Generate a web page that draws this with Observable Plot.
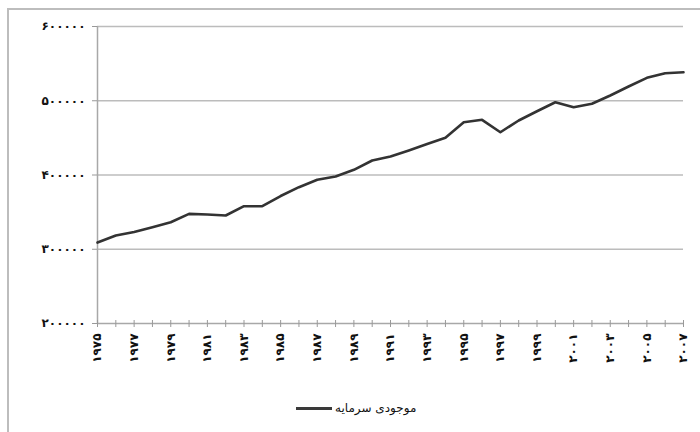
<!DOCTYPE html>
<html>
<head>
<meta charset="utf-8">
<script src="https://cdn.jsdelivr.net/npm/d3@7"></script>
<script src="https://cdn.jsdelivr.net/npm/@observablehq/plot@0.6"></script>
<style>
  html, body { margin: 0; padding: 0; background: #fff; }
  #wrap { position: relative; width: 700px; height: 432px; overflow: hidden; background: #fff; }
  #frame { position: absolute; left: 7px; top: 8px; right: -4px; bottom: -4px;
           border-left: 2px solid #bdbdbd; border-top: 2px solid #bdbdbd; pointer-events: none; }
  #legend { position: absolute; top: 401px; left: 296px; display: flex; align-items: center;
            font-family: "DejaVu Sans", sans-serif; font-size: 12px; letter-spacing: 0.5px;
            color: #111; direction: ltr; }
  #legend .swatch { width: 36px; height: 3px; background: #3a3a3a; margin-right: 3px; }
</style>
</head>
<body>
<div id="wrap">
  <div id="chart"></div>
  <div id="frame"></div>
  <div id="legend"><span class="swatch"></span><span dir="rtl">موجودی سرمایه</span></div>
</div>
<script>
// Capital stock, 1975–2007
const years = d3.range(1975, 2008);
const capitalStock = [
  309000, 318500, 323200, 329700, 336400, 347700, 346800, 345500, 358000, 358000,
  371700, 383600, 393500, 398000, 407000, 419500, 424900, 433000, 441700, 450100,
  471100, 474300, 457600, 473400, 485900, 498000, 491300, 495900, 507100, 519200,
  530900, 537100, 538400
];
const yTicks = [200000, 300000, 400000, 500000, 600000];
const labelYears = d3.range(1975, 2008, 2);
const seriesName = "موجودی سرمایه";

const persianDigits = "۰۱۲۳۴۵۶۷۸۹";
const toPersian = n => String(n).replace(/\d/g, d => persianDigits[+d]);

const data = years.map((year, i) => ({year, value: capitalStock[i]}));

const chart = Plot.plot({
  width: 700,
  height: 432,
  marginLeft: 97,
  marginRight: 17,
  marginTop: 26,
  marginBottom: 109,
  style: {fontFamily: "DejaVu Sans, sans-serif", fontSize: "12px", color: "#111", background: "transparent"},
  x: {type: "linear", domain: [1975, 2007]},
  y: {domain: [200000, 600000]},
  marks: [
    // horizontal gridlines
    Plot.ruleY(yTicks.slice(1), {stroke: "#bcbcbc", strokeWidth: 1.5}),
    // axis lines
    Plot.ruleY([200000], {stroke: "#a8a8a8", strokeWidth: 1.5}),
    Plot.ruleX([1975], {stroke: "#a8a8a8", strokeWidth: 1.5}),
    // y axis ticks and labels
    Plot.axisY({ticks: yTicks, tickSize: 5, tickPadding: 7, tickFormat: toPersian,
                stroke: "#999", label: null, fontSize: 12, fontWeight: "bold"}),
    // yearly tick marks crossing the x axis
    Plot.axisX({ticks: years, tickSize: 7, dy: -3, tickFormat: () => "", stroke: "#999", label: null}),
    // rotated year labels every two years
    Plot.axisX({ticks: labelYears, tickSize: 0, tickPadding: 10, tickRotate: -90,
                tickFormat: toPersian, label: null, fontSize: 12, fontWeight: "bold"}),
    // capital stock line
    Plot.line(data, {x: "year", y: "value", stroke: "#333", strokeWidth: 2.6,
                     strokeLinejoin: "round", title: () => seriesName})
  ]
});
document.getElementById("chart").appendChild(chart);
</script>
</body>
</html>
